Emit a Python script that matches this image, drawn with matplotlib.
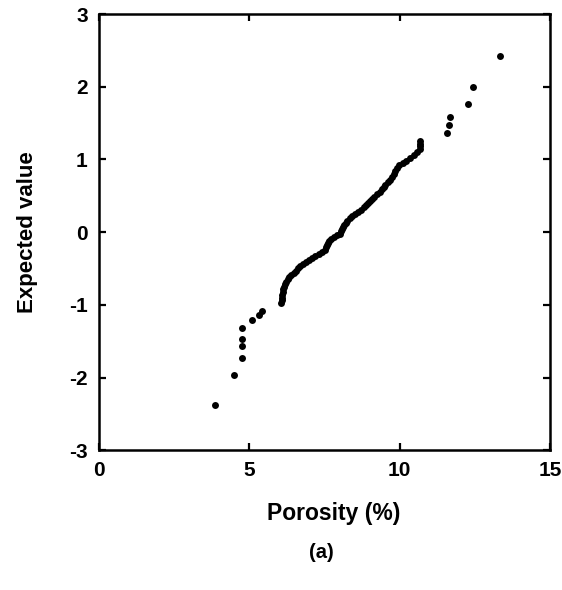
#!/usr/bin/env python3
"""
Normal probability plot of porosity (panel a)
"""

import matplotlib
matplotlib.use('Agg')
import matplotlib.pyplot as plt

# 孔隙度 (%) 與期望值
porosity = [
    3.86, 4.50, 4.77, 4.77, 4.77, 4.77, 5.09, 5.33, 5.42,
    6.06, 6.08, 6.10, 6.10, 6.12, 6.13, 6.15, 6.18, 6.22, 6.27,
    6.33, 6.40, 6.48, 6.55, 6.62, 6.70, 6.78, 6.88, 6.98, 7.08,
    7.18, 7.30, 7.40, 7.50, 7.55, 7.58, 7.62, 7.66, 7.72, 7.80,
    7.90, 8.00, 8.06, 8.08, 8.12, 8.15, 8.20, 8.26, 8.35, 8.42,
    8.50, 8.60, 8.70, 8.80, 8.88, 8.95, 9.02, 9.08, 9.15, 9.25,
    9.35, 9.42, 9.46, 9.52, 9.60, 9.68, 9.75, 9.80, 9.85, 9.90,
    9.98, 10.10, 10.22, 10.35, 10.48, 10.58, 10.66, 10.68, 10.68, 10.68,
    11.56, 11.62, 11.68, 12.26, 12.42, 13.33,
]
expected = [
    -2.38, -1.96, -1.73, -1.56, -1.47, -1.32, -1.21, -1.14, -1.08,
    -0.98, -0.94, -0.90, -0.86, -0.82, -0.78, -0.75, -0.72, -0.68, -0.65,
    -0.62, -0.59, -0.56, -0.53, -0.50, -0.47, -0.44, -0.41, -0.38, -0.35,
    -0.33, -0.30, -0.27, -0.24, -0.21, -0.18, -0.15, -0.12, -0.09, -0.06,
    -0.04, -0.02, 0.01, 0.04, 0.07, 0.10, 0.13, 0.16, 0.19, 0.22,
    0.25, 0.28, 0.31, 0.34, 0.37, 0.40, 0.43, 0.46, 0.49, 0.52,
    0.55, 0.59, 0.62, 0.65, 0.69, 0.72, 0.76, 0.80, 0.84, 0.88,
    0.92, 0.95, 0.98, 1.02, 1.06, 1.10, 1.14, 1.18, 1.22, 1.26,
    1.37, 1.47, 1.59, 1.76, 2.00, 2.42,
]

x_ticks = [0, 5, 10, 15]
y_ticks = [-3, -2, -1, 0, 1, 2, 3]

plt.rcParams['font.family'] = ['Liberation Sans', 'DejaVu Sans']
plt.rcParams['font.weight'] = 'bold'
plt.rcParams['axes.unicode_minus'] = False

fig = plt.figure(figsize=(5.62, 5.90), dpi=100)
ax = fig.add_axes([0.176, 0.237, 0.803, 0.739])

ax.plot(porosity, expected, 'o', color='black', markersize=5.0, markeredgewidth=0)

ax.set_xlim(0, 15)
ax.set_ylim(-3, 3)
ax.set_xticks(x_ticks)
ax.set_yticks(y_ticks)
ax.tick_params(direction='in', length=5, width=1.6, top=True, right=True,
               labelsize=15, pad=8)
for s in ax.spines.values():
    s.set_linewidth(1.8)

ax.set_xlabel('Porosity (%)', fontsize=16.5, fontweight='bold')
ax.xaxis.set_label_coords(0.52, -0.118)
ax.set_ylabel('Expected value', fontsize=16, fontweight='bold', labelpad=22)
fig.text(0.572, 0.063, '(a)', fontsize=14.5, fontweight='bold', ha='center', va='center')

plt.savefig('out.png', dpi=100)
